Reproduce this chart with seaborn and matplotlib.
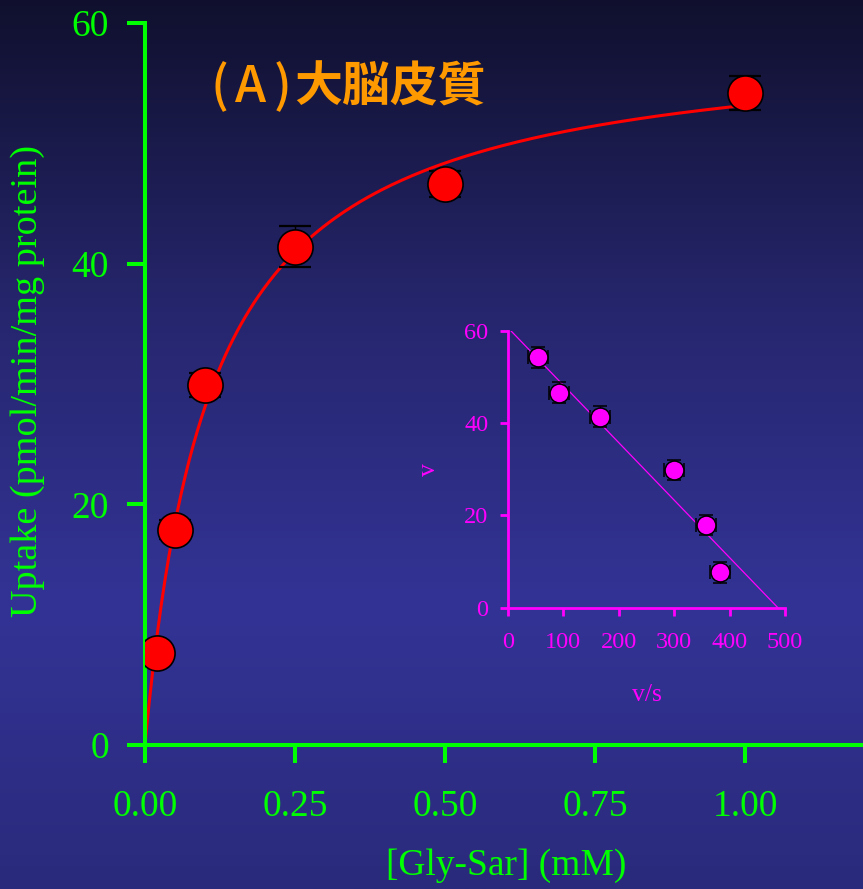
import numpy as np
import matplotlib
matplotlib.use("Agg")
import matplotlib.pyplot as plt
import seaborn as sns

# Gly-Sar uptake in cerebral cortex slices
conc_mM = [0.02, 0.05, 0.1, 0.25, 0.5, 1.0]
uptake = [7.65, 17.9, 29.9, 41.4, 46.6, 54.2]
uptake_sem = [0.6, 0.8, 1.0, 1.7, 1.1, 1.4]

# Michaelis-Menten fit of the saturation curve
vmax_fit = 59.0
km_fit = 0.11

# Eadie-Hofstee plot (v against v/s)
eh_v = uptake
eh_vs = [v / s for v, s in zip(uptake, conc_mM)]
eh_v_err = [2.2, 2.2, 2.2, 2.2, 2.2, 2.2]
eh_vs_err = [18, 18, 18, 18, 18, 18]
eh_intercept = 60.7   # v at v/s = 0
eh_slope = 0.1246     # -Km

x_ticks = [0.0, 0.25, 0.5, 0.75, 1.0]
x_ticklabels = ["0.00", "0.25", "0.50", "0.75", "1.00"]
y_ticks = [0, 20, 40, 60]
inset_x_ticks = [0, 100, 200, 300, 400, 500]
inset_y_ticks = [0, 20, 40, 60]

GREEN = "#00ff00"
MAGENTA = "#ff00ff"
RED = "#ff0000"
ORANGE = "#ff9900"

sns.set_theme(style="ticks")
plt.rcParams["font.family"] = ["Liberation Serif", "DejaVu Serif"]

W, H = 863, 889
fig = plt.figure(figsize=(W / 100, H / 100), dpi=100)

# vertical background gradient
stops = np.array([0.0, 0.35, 0.68, 1.0])
cols = np.array([[16, 16, 46], [38, 38, 110], [51, 51, 150], [42, 42, 124]]) / 255.0
t = np.linspace(0, 1, 400)
grad = np.stack([np.interp(t, stops, cols[:, k]) for k in range(3)], axis=-1)[:, None, :]
bg = fig.add_axes([0, 0, 1, 1], zorder=-10)
bg.imshow(grad, aspect="auto", extent=[0, 1, 0, 1])
bg.axis("off")

# ---- main panel ----
ax = fig.add_axes([145 / W, 144 / H, 720 / W, 722 / H])
ax.set_facecolor("none")

s_curve = np.linspace(0, 1.0, 300)
v_curve = vmax_fit * s_curve / (km_fit + s_curve)
sns.lineplot(x=s_curve, y=v_curve, ax=ax, color=RED, linewidth=2.2, zorder=2)
ax.errorbar(conc_mM, uptake, yerr=uptake_sem, fmt="none", ecolor="black",
            elinewidth=1.0, capsize=11.5, capthick=1.6, zorder=2)
sns.scatterplot(x=conc_mM, y=uptake, ax=ax, color=RED, s=640,
                edgecolor="black", linewidth=1.2, zorder=3)

ax.set_xlim(0, 1.2)
ax.set_ylim(0, 60)
ax.set_xticks(x_ticks)
ax.set_xticklabels(x_ticklabels)
ax.set_yticks(y_ticks)
for side in ["top", "right"]:
    ax.spines[side].set_visible(False)
for side in ["left", "bottom"]:
    ax.spines[side].set_color(GREEN)
    ax.spines[side].set_linewidth(2.9)
ax.tick_params(axis="both", direction="out", length=13, width=2.9,
               color=GREEN, labelcolor=GREEN, labelsize=27)
ax.tick_params(axis="x", pad=19)
ax.tick_params(axis="y", pad=13)
ax.set_xlabel("[Gly-Sar] (mM)", color=GREEN, fontsize=27, va="center")
ax.xaxis.set_label_coords((506 - 145) / 720, (745 - 866) / 722)
ax.set_ylabel("Uptake (pmol/min/mg protein)", color=GREEN, fontsize=27.5,
              va="center")
ax.yaxis.set_label_coords((28 - 145) / 720, (745 - 381) / 722)

# panel title: loosely spaced "(A)" in regular weight, Japanese part bold
cjk = ["Noto Sans CJK JP", "DejaVu Sans"]
for piece, xpx in [("(", 210), ("A", 235), (")", 274)]:
    fig.text(xpx / W, 1 - 102 / H, piece, color=ORANGE, fontsize=36,
             fontweight="medium", ha="left", va="baseline", family=cjk)
fig.text(294 / W, 1 - 101 / H, "大脳皮質", color=ORANGE, fontsize=34.5,
         fontweight="bold", ha="left", va="baseline", family=cjk)

# ---- Eadie-Hofstee inset ----
ins = fig.add_axes([507.7 / W, (H - 607.7) / H, 277.3 / W, 277 / H])
ins.set_facecolor("none")

v_line = np.array([0.0, 60.0])
vs_line = (eh_intercept - v_line) / eh_slope
sns.lineplot(x=vs_line, y=v_line, ax=ins, color=MAGENTA, linewidth=0.9,
             zorder=2)
ins.errorbar(eh_vs, eh_v, xerr=eh_vs_err, yerr=eh_v_err, fmt="none",
             ecolor="black", elinewidth=0.9, capsize=5, capthick=1.1, zorder=2)
sns.scatterplot(x=eh_vs, y=eh_v, ax=ins, color=MAGENTA, s=185,
                edgecolor="black", linewidth=1.1, zorder=3)

ins.set_xlim(0, 500)
ins.set_ylim(0, 60)
ins.set_xticks(inset_x_ticks)
ins.set_yticks(inset_y_ticks)
for side in ["top", "right"]:
    ins.spines[side].set_visible(False)
for side in ["left", "bottom"]:
    ins.spines[side].set_color(MAGENTA)
    ins.spines[side].set_linewidth(2.0)
ins.tick_params(axis="both", direction="out", length=5.5, width=2.0,
                color=MAGENTA, labelcolor=MAGENTA, labelsize=17.5)
ins.tick_params(axis="x", pad=12)
ins.tick_params(axis="y", pad=8.5)
ins.set_xlabel("v/s", color=MAGENTA, fontsize=18.5, va="center")
ins.xaxis.set_label_coords(0.502, (607.7 - 695) / 277)
ins.set_ylabel("v", color=MAGENTA, fontsize=18.5, va="center")
ins.yaxis.set_label_coords((429 - 507.7) / 277, 0.5)

fig.savefig("out.png", dpi=100)
